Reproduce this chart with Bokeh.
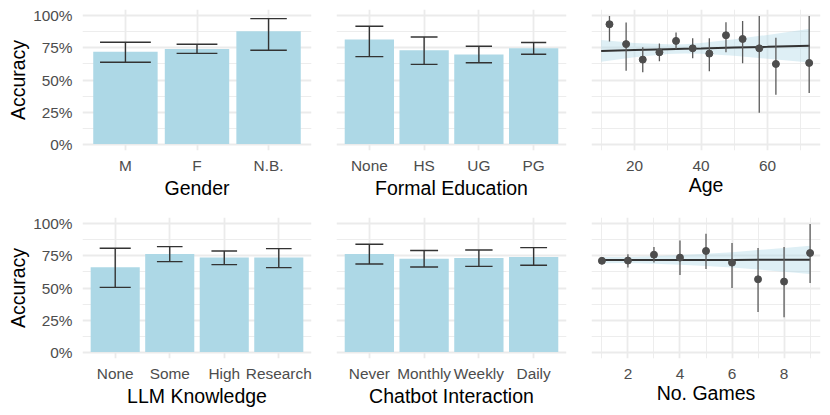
from bokeh.plotting import figure
from bokeh.layouts import row, column
from bokeh.models import (ColumnDataSource, FactorRange, Range1d, FixedTicker,
                          NumeralTickFormatter)
from bokeh.embed import file_html
from bokeh.resources import INLINE

# ---------------- data (accuracy in %) ----------------
gender_cats = ["M", "F", "N.B."]
gender_acc = [72.1, 74.2, 88.0]
gender_lo = [63.8, 70.8, 73.2]
gender_hi = [79.4, 77.9, 97.9]
gender_cap = [0.71, 0.57, 0.51]

edu_cats = ["None", "HS", "UG", "PG"]
edu_acc = [81.5, 73.2, 69.8, 74.7]
edu_lo = [68.2, 62.2, 63.5, 70.1]
edu_hi = [91.9, 83.6, 76.3, 79.2]
edu_cap = [0.51, 0.49, 0.48, 0.46]

llm_cats = ["None", "Some", "High", "Research"]
llm_acc = [66.1, 76.6, 73.7, 73.7]
llm_lo = [50.5, 70.6, 68.2, 65.9]
llm_hi = [81.0, 82.3, 78.9, 80.7]
llm_cap = [0.57, 0.47, 0.47, 0.47]

chat_cats = ["Never", "Monthly", "Weekly", "Daily"]
chat_acc = [76.6, 72.9, 73.4, 74.2]
chat_lo = [68.75, 66.4, 66.9, 67.7]
chat_hi = [84.1, 79.2, 79.7, 81.5]
chat_cap = [0.51, 0.51, 0.50, 0.49]

age_x = [12.5, 17.5, 22.5, 27.5, 32.5, 37.5, 42.5, 47.5, 52.5, 57.5, 62.5, 72.5]
age_acc = [93.5, 78.0, 65.9, 71.6, 80.5, 74.7, 70.6, 84.9, 82.0, 74.7, 62.5, 63.3]
age_lo = [80.0, 57.3, 56.0, 64.6, 74.0, 67.0, 56.8, 71.6, 63.0, 24.5, 38.5, 39.8]
age_hi = [100.0, 94.8, 75.5, 78.4, 87.0, 82.5, 82.5, 95.0, 96.0, 100.0, 83.0, 100.0]

age_fit_x = [10, 20, 30, 35, 40, 50, 60, 72.7]
age_fit_y = [72.7, 73.35, 74.0, 74.3, 74.6, 75.3, 75.9, 76.8]
age_fit_lo = [64.2, 67.75, 70.2, 70.7, 70.4, 68.9, 66.6, 63.6]
age_fit_hi = [81.2, 78.95, 77.8, 77.9, 78.8, 81.7, 85.2, 90.0]

games_x = [1, 2, 3, 4, 5, 6, 7, 8, 9]
games_acc = [71.2, 71.4, 76.0, 73.7, 78.9, 69.8, 56.8, 55.0, 77.3]
games_lo = [68.8, 65.9, 69.8, 60.2, 64.8, 50.0, 31.3, 27.1, 53.9]
games_hi = [73.3, 76.3, 82.0, 87.0, 92.4, 85.2, 81.3, 82.0, 100.0]

games_fit_x = [1, 2, 3, 4, 5, 6, 7, 8, 9]
games_fit_y = [71.8, 71.82, 71.85, 71.87, 71.9, 71.92, 71.95, 71.97, 72.0]
games_fit_lo = [69.4, 69.5, 68.85, 68.07, 67.1, 65.92, 64.35, 62.67, 61.0]
games_fit_hi = [74.2, 74.1, 74.85, 75.67, 76.7, 77.92, 79.55, 81.27, 83.0]

y_ticks = [0, 0.25, 0.5, 0.75, 1.0]
y_minor = [0.125, 0.375, 0.625, 0.875]

# ---------------- styling ----------------
FONT = "Liberation Sans"
TICK_FS = "15.4px"
TITLE_FS = "19.5px"
GRID = "#EBEBEB"
BAR = "#ADD8E6"


def frac(v):
    return [a / 100.0 for a in v]


def style(p, xlabel, show_y):
    p.background_fill_color = "white"
    p.border_fill_color = "white"
    p.outline_line_color = None
    p.toolbar.logo = None
    for ax in p.axis:
        ax.axis_line_color = None
        ax.major_tick_line_color = None
        ax.minor_tick_line_color = None
        ax.major_tick_out = 0
        ax.major_tick_in = 0
        ax.major_label_text_font = FONT
        ax.major_label_text_font_size = TICK_FS
        ax.major_label_text_color = "#4D4D4D"
        ax.axis_label_text_font = FONT
        ax.axis_label_text_font_size = TITLE_FS
        ax.axis_label_text_color = "black"
        ax.axis_label_text_font_style = "normal"
    p.xaxis.axis_label = xlabel
    p.xaxis.major_label_standoff = 6
    p.xaxis.axis_label_standoff = 0
    p.yaxis.ticker = FixedTicker(ticks=y_ticks, minor_ticks=y_minor)
    p.yaxis.formatter = NumeralTickFormatter(format="0%")
    p.yaxis.major_label_standoff = 6
    p.yaxis.axis_label_standoff = 1
    if show_y:
        p.yaxis.axis_label = "Accuracy"
    else:
        p.yaxis.visible = False
    p.ygrid.ticker = FixedTicker(ticks=y_ticks, minor_ticks=y_minor)
    for g in (p.xgrid, p.ygrid):
        g.grid_line_color = GRID
        g.grid_line_width = 1.8
    p.ygrid.minor_grid_line_color = GRID
    p.ygrid.minor_grid_line_width = 0.9


def bar_panel(cats, acc, lo, hi, cap, xlabel, show_y, width, height, bl, br, bt, bb):
    n = len(cats)
    p = figure(x_range=FactorRange(factors=cats, range_padding=0.2 / n),
               y_range=Range1d(-0.05, 1.05), width=width, height=height,
               min_border_left=bl, min_border_right=br, min_border_top=bt,
               min_border_bottom=bb, output_backend="svg", toolbar_location=None)
    src = ColumnDataSource(dict(
        x=cats, top=frac(acc), lo=frac(lo), hi=frac(hi),
        cx0=[[c, -w / 2] for c, w in zip(cats, cap)],
        cx1=[[c, w / 2] for c, w in zip(cats, cap)],
    ))
    p.vbar(x="x", top="top", width=0.9, source=src, fill_color=BAR, line_color=None)
    p.segment(x0="x", y0="lo", x1="x", y1="hi", source=src, line_color="#333333", line_width=1.4)
    p.segment(x0="cx0", y0="lo", x1="cx1", y1="lo", source=src, line_color="#333333", line_width=1.4)
    p.segment(x0="cx0", y0="hi", x1="cx1", y1="hi", source=src, line_color="#333333", line_width=1.4)
    style(p, xlabel, show_y)
    return p


def scatter_panel(x, acc, lo, hi, fx, fy, flo, fhi, xr, xt, xm, xlabel,
                  width, height, bl, br, bt, bb):
    p = figure(x_range=Range1d(*xr), y_range=Range1d(-0.05, 1.05),
               width=width, height=height,
               min_border_left=bl, min_border_right=br, min_border_top=bt,
               min_border_bottom=bb, output_backend="svg", toolbar_location=None)
    fit = ColumnDataSource(dict(x=fx, y=frac(fy), lo=frac(flo), hi=frac(fhi)))
    pts = ColumnDataSource(dict(x=x, y=frac(acc), lo=frac(lo), hi=frac(hi)))
    p.varea(x="x", y1="lo", y2="hi", source=fit, fill_color=BAR, fill_alpha=0.4)
    p.line(x="x", y="y", source=fit, line_color="#333333", line_width=2)
    p.segment(x0="x", y0="lo", x1="x", y1="hi", source=pts, line_color="#5A5A5A", line_width=1.3)
    p.scatter(x="x", y="y", source=pts, size=7, fill_color="#4D4D4D", line_color="#4D4D4D")
    style(p, xlabel, False)
    p.xaxis.ticker = FixedTicker(ticks=xt, minor_ticks=xm)
    p.xgrid.ticker = FixedTicker(ticks=xt, minor_ticks=xm)
    p.xgrid.minor_grid_line_color = GRID
    p.xgrid.minor_grid_line_width = 0.9
    return p


H1, H2 = 206, 206
f1 = bar_panel(gender_cats, gender_acc, gender_lo, gender_hi, gender_cap, "Gender", True,
               323, H1, 82, 12, 9, 56)
f2 = bar_panel(edu_cats, edu_acc, edu_lo, edu_hi, edu_cap, "Formal Education", False,
               255, H1, 13, 12, 9, 56)
f3 = scatter_panel(age_x, age_acc, age_lo, age_hi, age_fit_x, age_fit_y, age_fit_lo, age_fit_hi,
                   (7.1, 75.9), [20, 40, 60], [10, 30, 50, 70], "Age",
                   252, H1, 13, 10, 9, 56)
f4 = bar_panel(llm_cats, llm_acc, llm_lo, llm_hi, llm_cap, "LLM Knowledge", True,
               323, H2, 82, 12, 11, 54)
f5 = bar_panel(chat_cats, chat_acc, chat_lo, chat_hi, chat_cap, "Chatbot Interaction", False,
               255, H2, 13, 12, 11, 54)
f6 = scatter_panel(games_x, games_acc, games_lo, games_hi, games_fit_x, games_fit_y,
                   games_fit_lo, games_fit_hi, (0.6, 9.4), [2, 4, 6, 8], [1, 3, 5, 7, 9],
                   "No. Games", 252, H2, 13, 10, 11, 54)

layout = column(row(f1, f2, f3), row(f4, f5, f6))
open("out.html", "w").write(file_html(layout, INLINE))
